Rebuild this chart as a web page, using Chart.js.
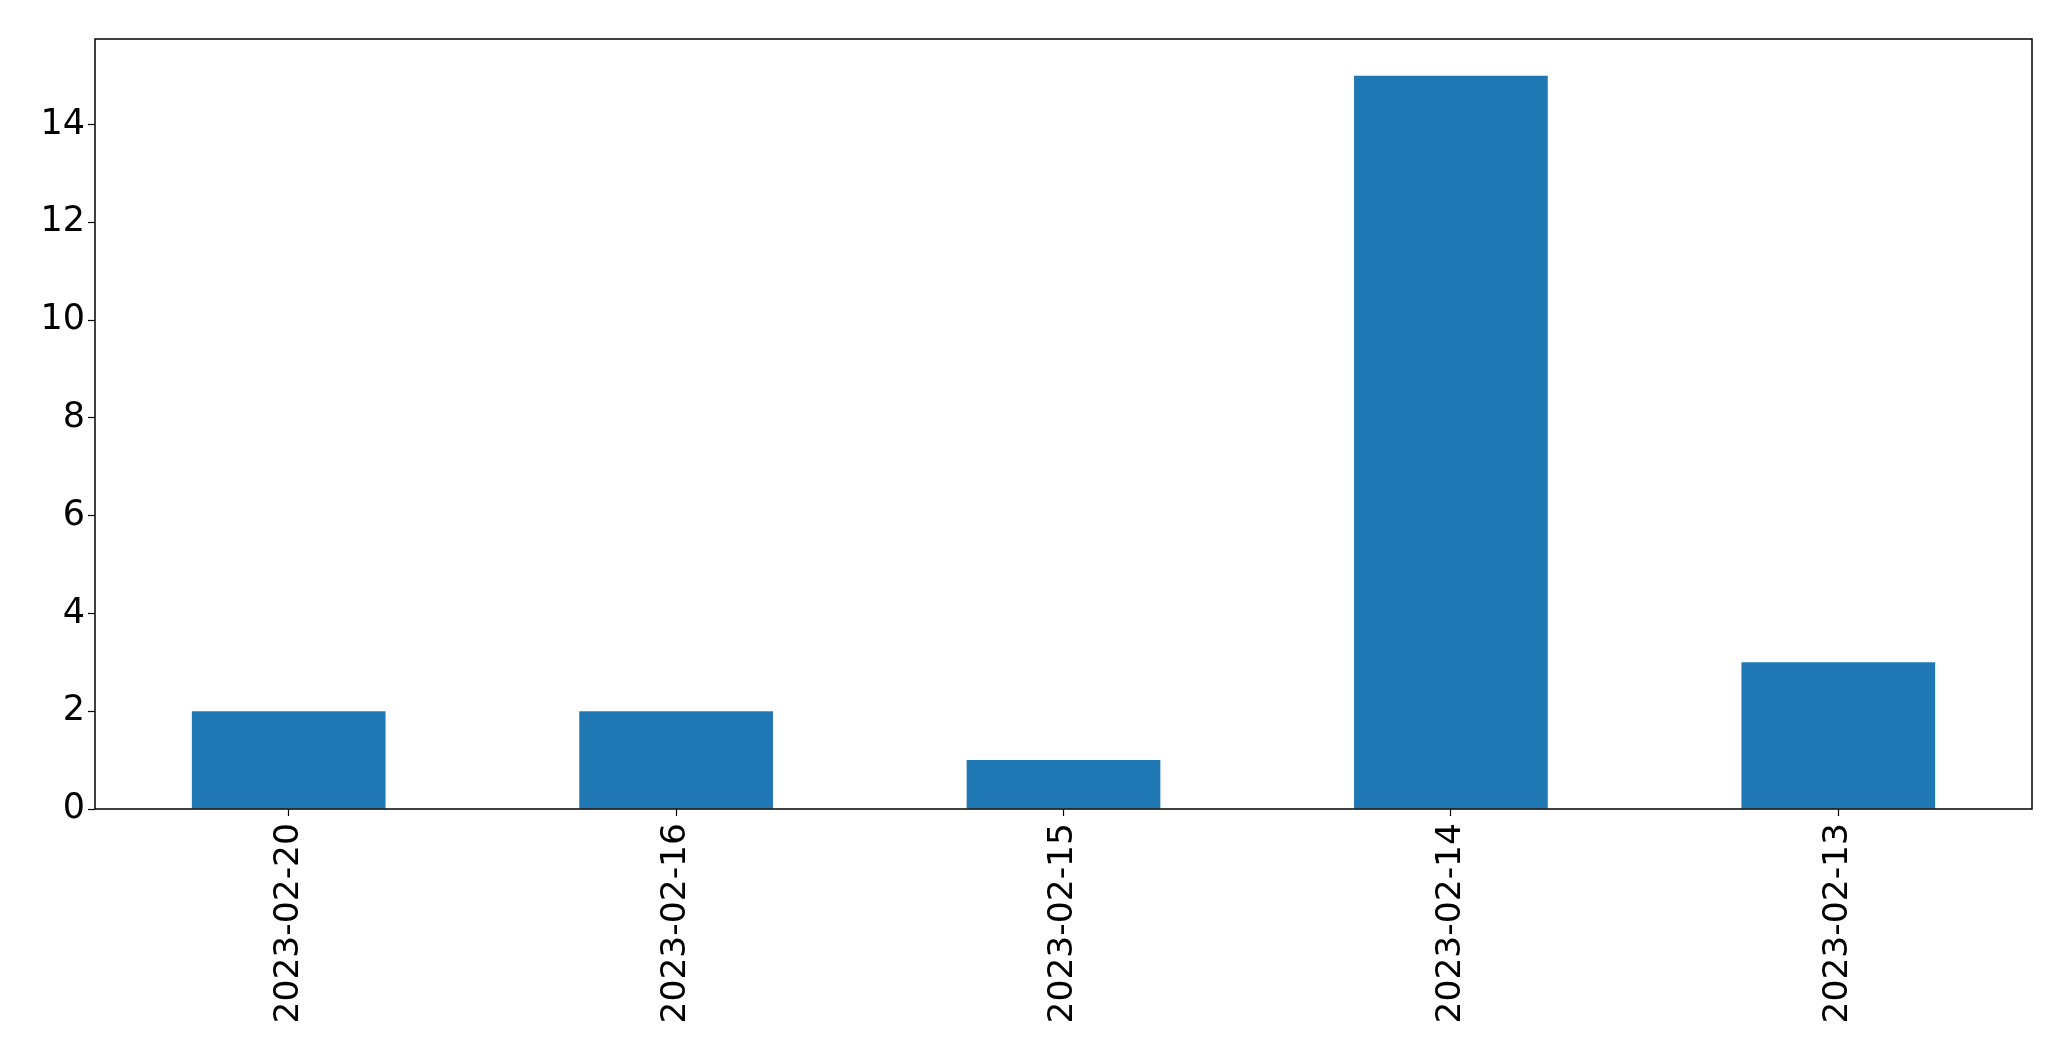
<!DOCTYPE html>
<html>
<head>
<meta charset="utf-8">
<script src="https://cdn.jsdelivr.net/npm/chart.js@4"></script>
<style>
  html, body { margin: 0; padding: 0; background: #fff; }
  #wrap { width: 2071px; height: 1061px; }
</style>
</head>
<body>
<div id="wrap"><canvas id="myChart" width="2071" height="1061"></canvas></div>
<script>
var dates = ['2023-02-20', '2023-02-16', '2023-02-15', '2023-02-14', '2023-02-13'];
var counts = [2, 2, 1, 15, 3];
var yMax = 15.75;

// black box round the plot area, like matplotlib's spines
var frame = {
    id: 'frame',
    afterDraw: function(chart){
        var a = chart.chartArea;
        var ctx = chart.ctx;
        ctx.save();
        ctx.strokeStyle = '#000';
        ctx.lineWidth = 1.5;
        ctx.strokeRect(a.left, a.top, a.right - a.left, a.bottom - a.top);
        ctx.restore();
    }
};

Chart.defaults.font.family = "'DejaVu Sans', sans-serif";
Chart.defaults.color = '#000';

var ctx = document.getElementById('myChart');
new Chart(ctx, {
    type: 'bar',
    data: {
        labels: dates,
        datasets: [{
            data: counts,
            backgroundColor: '#1f77b4',
            borderWidth: 0,
            categoryPercentage: 1.0,
            barPercentage: 0.5
        }]
    },
    plugins: [frame],
    options: {
        responsive: false,
        animation: false,
        layout: { padding: { top: 39, right: 39, left: 0, bottom: 0 } },
        plugins: {
            legend: { display: false },
            tooltip: { enabled: false }
        },
        scales: {
            x: {
                offset: true,
                grid: { display: true, offset: false, drawOnChartArea: false, tickLength: 7, color: '#000', tickWidth: 1.2 },
                border: { display: false },
                ticks: { minRotation: 90, maxRotation: 90, padding: 7, font: { size: 34.5 } },
                afterFit: function(scale){ scale.height = 252; }
            },
            y: {
                min: 0,
                max: yMax,
                grid: { display: true, drawOnChartArea: false, tickLength: 7, color: '#000', tickWidth: 1.2 },
                border: { display: false },
                ticks: { stepSize: 2, includeBounds: false, padding: 3, font: { size: 35 } },
                afterFit: function(scale){ scale.width = 95; }
            }
        }
    }
});
</script>
</body>
</html>
